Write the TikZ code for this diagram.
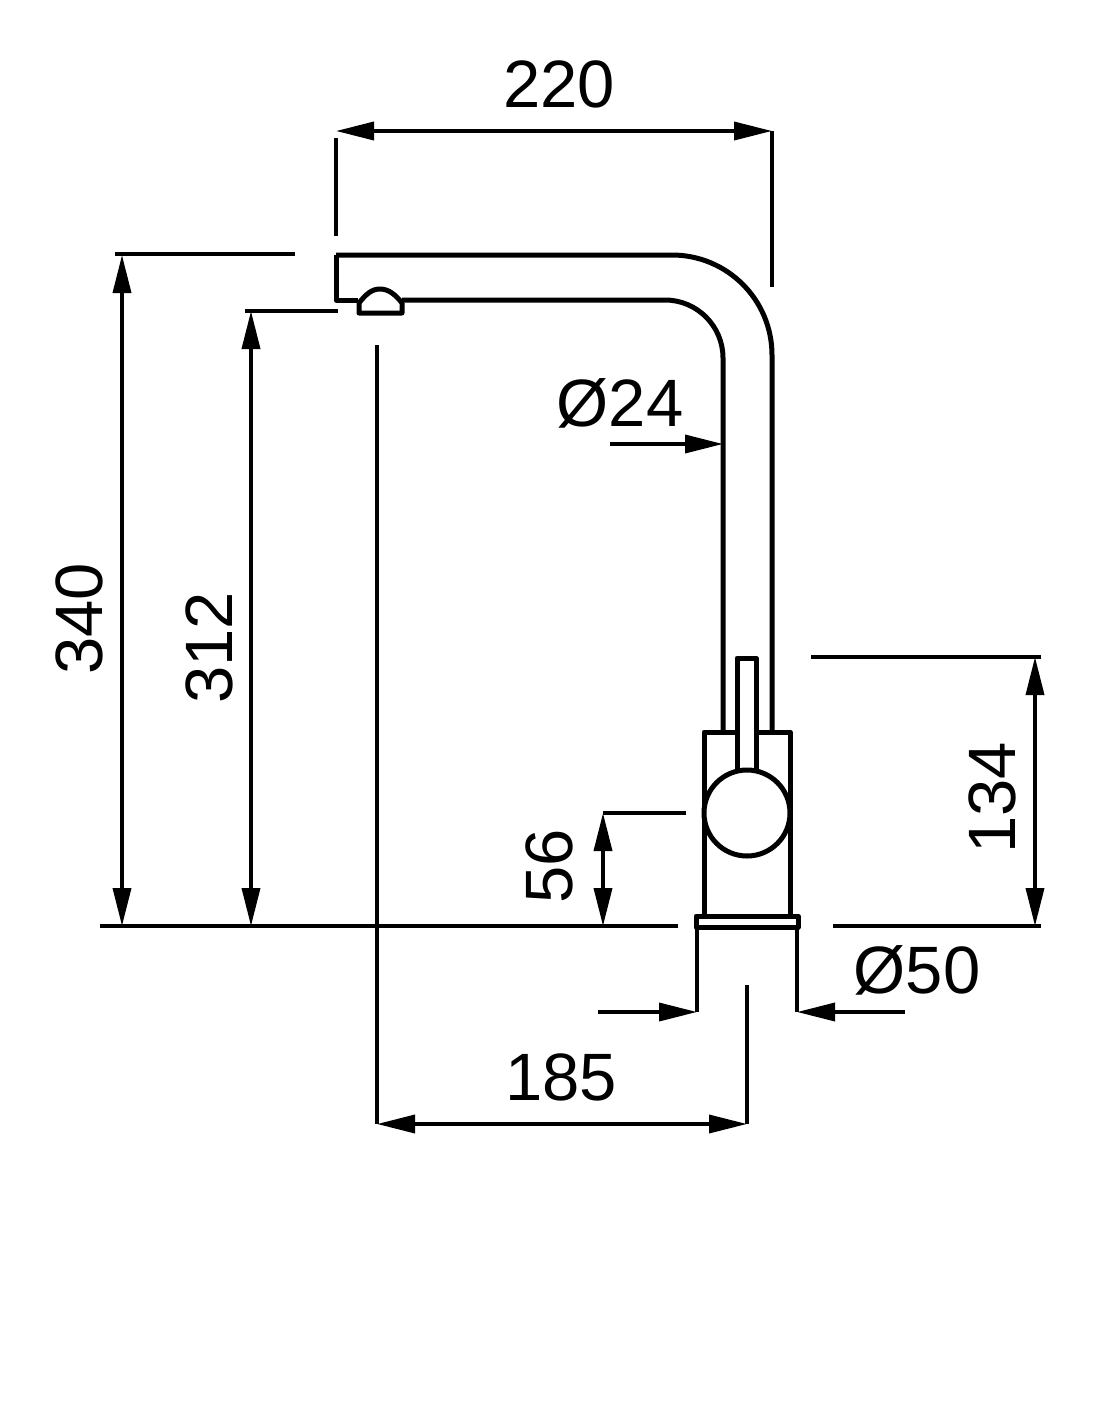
\documentclass[tikz,border=0pt]{standalone}
\usepackage{fontspec}
\setmainfont{Liberation Sans}
\usetikzlibrary{arrows.meta}

\begin{document}
\begin{tikzpicture}[x=1pt, y=-1pt]
    % Styles
    \tikzstyle{body} = [draw, line width=5pt, line join=round]
    \tikzstyle{thin} = [draw, line width=3.6pt]
    \tikzstyle{line} = [draw, line width=3.6pt, -{Triangle[length=38pt,width=18pt]}]
    \tikzstyle{both} = [draw, line width=3.6pt, {Triangle[length=38pt,width=18pt]}-{Triangle[length=38pt,width=18pt]}]
    \tikzstyle{dimtext} = [font=\fontsize{67}{67}\selectfont, inner sep=0pt]

    \useasboundingbox (0,0) rectangle (1100,1422);

    % Spout
    \path [body] (336,255) -- (672,255) arc[start angle=-90, end angle=0, radius=100] -- (772,732);
    \path [body] (336,255) -- (336,300) -- (358,300);
    \path [body] (402,300) -- (665,300) arc[start angle=-90, end angle=0, radius=58] -- (723,732);
    % Aerator
    \path [body] (359,313) -- (359,303) .. controls (366,294) and (372,289) .. (380,289) .. controls (388,289) and (395,294) .. (402,303) -- (402,313) -- cycle;

    % Body
    \path [body] (704,732) rectangle (790,916);
    \path [body, fill=white] (737,770) -- (737,658) -- (756,658) -- (756,770);
    \path [body, fill=white] (747,813) circle (43);
    \path [body] (696,916) rectangle (798,927);

    % Coordinates
    \coordinate (spoutleft) at (336,131);
    \coordinate (spoutright) at (772,131);
    \coordinate (topleft) at (122,255);
    \coordinate (topfloor) at (122,926);
    \coordinate (mouthtop) at (251,311);
    \coordinate (mouthfloor) at (251,926);
    \coordinate (axisbottom) at (377,1124);
    \coordinate (centrebottom) at (747,1124);
    \coordinate (handletop) at (1035,657);
    \coordinate (handlefloor) at (1035,926);
    \coordinate (knobtop) at (603,813);
    \coordinate (knobfloor) at (603,926);
    \coordinate (tubestart) at (610,444);
    \coordinate (tubeend) at (723,444);
    \coordinate (baseleft) at (697,1012);
    \coordinate (baseright) at (797,1012);
    \coordinate (leftstart) at (598,1012);
    \coordinate (rightstart) at (905,1012);

    % Extension lines
    \path [thin] (spoutleft) ++(0,7) -- (336,236);
    \path [thin] (spoutright) -- (772,287);
    \path [thin] (115,254) -- (295,254);
    \path [thin] (245,311) -- (338,311);
    \path [thin] (377,345) -- (axisbottom);
    \path [thin] (100,926) -- (678,926);
    \path [thin] (833,926) -- (1041,926);
    \path [thin] (811,657) -- (1041,657);
    \path [thin] (knobtop) -- (686,813);
    \path [thin] (697,927) -- (baseleft);
    \path [thin] (797,927) -- (baseright);
    \path [thin] (747,985) -- (centrebottom);

    % Edges
    \path [both] (spoutleft) -- (spoutright);
    \path [both] (topleft) -- (topfloor);
    \path [both] (mouthtop) -- (mouthfloor);
    \path [both] (axisbottom) -- (centrebottom);
    \path [both] (handletop) -- (handlefloor);
    \path [both] (knobtop) -- (knobfloor);
    \path [line] (tubestart) -- (tubeend);
    \path [line] (leftstart) -- (baseleft);
    \path [line] (rightstart) -- (baseright);

    % Labels
    \node [dimtext] (width) at (559,84) {220};
    \node [dimtext, rotate=90] (height) at (79,619) {340};
    \node [dimtext, rotate=90] (mouth) at (209,648) {312};
    \node [dimtext] (tube) at (620,403) {Ø24};
    \node [dimtext, rotate=90] (knob) at (549,866) {56};
    \node [dimtext, rotate=90] (handle) at (992,798) {134};
    \node [dimtext] (base) at (917,970) {Ø50};
    \node [dimtext] (reach) at (561,1077) {185};
\end{tikzpicture}
\end{document}
